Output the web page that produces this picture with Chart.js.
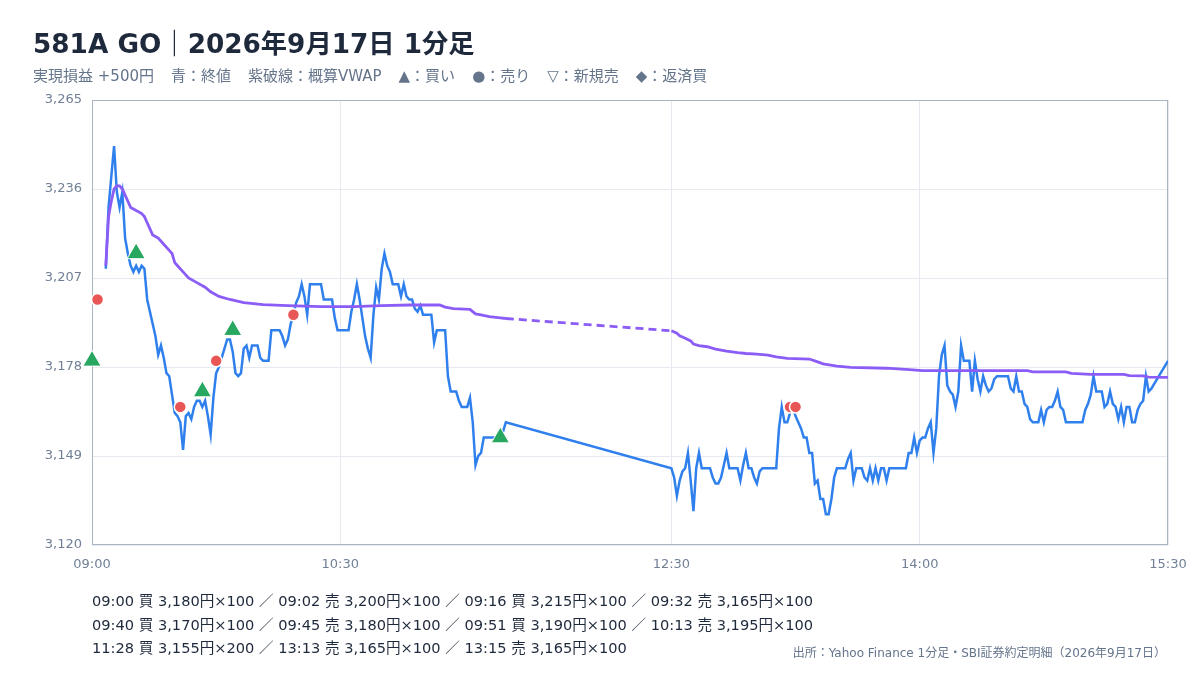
<!DOCTYPE html>
<html lang="ja">
<head>
<meta charset="utf-8">
<title>581A GO 1分足</title>
<script src="https://cdn.jsdelivr.net/npm/chart.js@4.4.1/dist/chart.umd.min.js"></script>
<style>
  html, body { margin: 0; padding: 0; background: #fff; }
  body { width: 1200px; height: 680px; position: relative; overflow: hidden;
         font-family: "DejaVu Sans", "Noto Sans CJK JP", sans-serif; }
  #chart { position: absolute; left: 0; top: 0; }
  #title { position: absolute; left: 33px; top: 29px; font-size: 26.3px; line-height: 30px;
           font-weight: bold; color: #1e293b; white-space: nowrap; }
  #subtitle { position: absolute; left: 33px; top: 67px; font-size: 15px; line-height: 18px;
              color: #64748b; white-space: nowrap; }
  #subtitle span { margin-right: 17px; }
  #trades { position: absolute; left: 92px; top: 589px; font-size: 14.6px; line-height: 23.5px;
            color: #1e293b; white-space: nowrap; }
  #source { position: absolute; right: 34px; top: 645px; font-size: 12px; line-height: 16px;
            color: #64748b; white-space: nowrap; }
</style>
</head>
<body>
<canvas id="chart" width="1200" height="680"></canvas>
<div id="title">581A GO｜2026年9月17日 1分足</div>
<div id="subtitle"><span>実現損益 +500円</span><span>青：終値</span><span>紫破線：概算VWAP</span><span>▲：買い</span><span>●：売り</span><span>▽：新規売</span><span>◆：返済買</span></div>
<div id="trades"></div>
<div id="source">出所：Yahoo Finance 1分足・SBI証券約定明細（2026年9月17日）</div>
<script>
// 軸
const xTickLabels = ["09:00", "10:30", "12:30", "14:00", "15:30"];
const yTicks = [3120, 3149, 3178, 3207, 3236, 3265];
const lunchBreak = ["11:30", "12:30"];

// 終値（09:00からの経過分）
const priceMinutes = [
  5, 6, 7, 8, 9, 10, 11, 12, 13, 14, 15, 16, 17, 18, 19, 20, 21, 22, 23, 24,
  25, 26, 27, 28, 29, 30, 31, 32, 33, 34, 35, 36, 37, 38, 39, 40, 41, 42, 43, 44,
  45, 46, 47, 48, 49, 50, 51, 52, 53, 54, 55, 56, 57, 58, 59, 60, 61, 62, 63, 64,
  65, 66, 67, 68, 69, 70, 71, 72, 73, 74, 75, 76, 77, 78, 79, 80, 81, 82, 83, 84,
  85, 86, 87, 88, 89, 90, 91, 92, 93, 94, 95, 96, 97, 98, 99, 100, 101, 102, 103, 104,
  105, 106, 107, 108, 109, 110, 111, 112, 113, 114, 115, 116, 117, 118, 119, 120, 121, 122, 123, 124,
  125, 126, 127, 128, 129, 130, 131, 132, 133, 134, 135, 136, 137, 138, 139, 140, 141, 142, 143, 144,
  145, 146, 147, 148, 149, 150,
  210, 211, 212, 213, 214, 215, 216, 217, 218, 219, 220, 221, 222, 223, 224, 225, 226, 227, 228, 229,
  230, 231, 232, 233, 234, 235, 236, 237, 238, 239, 240, 241, 242, 243, 244, 245, 246, 247, 248, 249,
  250, 251, 252, 253, 254, 255, 256, 257, 258, 259, 260, 261, 262, 263, 264, 265, 266, 267, 268, 269,
  270, 271, 272, 273, 274, 275, 276, 277, 278, 279, 280, 281, 282, 283, 284, 285, 286, 287, 288, 289,
  290, 291, 292, 293, 294, 295, 296, 297, 298, 299, 300, 301, 302, 303, 304, 305, 306, 307, 308, 309,
  310, 311, 312, 313, 314, 315, 316, 317, 318, 319, 320, 321, 322, 323, 324, 325, 326, 327, 328, 329,
  330, 331, 332, 333, 334, 335, 336, 337, 338, 339, 340, 341, 342, 343, 344, 345, 346, 347, 348, 349,
  350, 351, 352, 353, 354, 355, 356, 357, 358, 359, 360, 361, 362, 363, 364, 365, 366, 367, 368, 369,
  370, 371, 372, 373, 374, 375, 376, 377, 378, 379, 380, 381, 382, 383, 384, 390
];
const priceValues = [
  3210, 3230, 3240, 3250, 3235, 3230, 3235, 3220, 3215, 3211, 3209, 3211, 3209, 3211, 3210, 3200, 3196, 3192, 3188, 3182,
  3185, 3181, 3176, 3175, 3169, 3163, 3162, 3160, 3151, 3162, 3163, 3161, 3165, 3167, 3167, 3165, 3167, 3162, 3156, 3168,
  3176, 3178, 3181, 3184, 3187, 3187, 3183, 3176, 3175, 3176, 3184, 3185, 3181, 3185, 3185, 3185, 3181, 3180, 3180, 3180,
  3190, 3190, 3190, 3190, 3188, 3185, 3187, 3192, 3195, 3199, 3201, 3205, 3201, 3195, 3205, 3205, 3205, 3205, 3205, 3200,
  3200, 3200, 3200, 3194, 3190, 3190, 3190, 3190, 3190, 3196, 3200, 3205, 3200, 3194, 3188, 3184, 3181, 3195, 3204, 3200,
  3210, 3215, 3211, 3209, 3205, 3205, 3205, 3201, 3205, 3201, 3200, 3200, 3197, 3196, 3198, 3195, 3195, 3195, 3195, 3186,
  3190, 3190, 3190, 3190, 3175, 3170, 3170, 3170, 3167, 3165, 3165, 3165, 3168, 3160, 3146, 3149, 3150, 3155, 3155, 3155,
  3155, 3155, 3155, 3155, 3157, 3160,
  3145, 3142, 3136, 3141, 3144, 3145, 3150, 3141, 3131, 3145, 3150, 3145, 3145, 3145, 3145, 3142, 3140, 3140, 3142, 3146,
  3150, 3145, 3145, 3145, 3145, 3141, 3146, 3150, 3145, 3145, 3142, 3140, 3144, 3145, 3145, 3145, 3145, 3145, 3145, 3158,
  3165, 3160, 3160, 3163, 3165, 3162, 3160, 3158, 3155, 3155, 3150, 3150, 3140, 3141, 3135, 3135, 3130, 3130, 3135, 3142,
  3145, 3145, 3145, 3145, 3148, 3150, 3141, 3145, 3145, 3145, 3142, 3141, 3145, 3141, 3145, 3141, 3145, 3145, 3141, 3145,
  3145, 3145, 3145, 3145, 3145, 3145, 3150, 3150, 3155, 3150, 3154, 3155, 3155, 3158, 3160, 3150, 3158, 3175, 3182, 3185,
  3172, 3170, 3169, 3165, 3170, 3185, 3180, 3180, 3180, 3170, 3180, 3174, 3170, 3175, 3172, 3170, 3171, 3174, 3175, 3175,
  3175, 3175, 3175, 3171, 3170, 3175, 3170, 3170, 3166, 3165, 3161, 3160, 3160, 3160, 3164, 3160, 3164, 3165, 3165, 3167,
  3170, 3165, 3164, 3160, 3160, 3160, 3160, 3160, 3160, 3160, 3164, 3166, 3169, 3175, 3170, 3170, 3170, 3165, 3166, 3170,
  3166, 3165, 3161, 3165, 3160, 3165, 3165, 3160, 3160, 3164, 3166, 3167, 3175, 3170, 3171, 3180
];

// 概算VWAP
const vwapMinutes = [
  5, 6, 7, 8, 9, 10, 11, 12, 13, 14, 16, 18, 19, 20, 21, 22, 24, 26, 28, 29,
  30, 31, 33, 35, 38, 41, 43, 46, 50, 55, 62, 71, 83, 95, 105, 115, 126, 128, 131, 137,
  139, 141, 144, 148, 150,
  210, 212, 213, 215, 217, 218, 220, 223, 226, 230, 234, 237, 241, 245, 248, 252, 260, 262, 265, 270,
  275, 288, 295, 301, 339, 341, 353, 355, 362, 374, 376, 381, 383, 390
];
const vwapValues = [
  3211, 3227, 3232, 3236, 3237, 3237, 3236, 3234, 3232, 3230, 3229, 3228, 3227, 3225, 3223, 3221, 3220, 3218, 3216, 3215,
  3212, 3211, 3209, 3207, 3205.5, 3204, 3202.5, 3201, 3200, 3199, 3198.3, 3198, 3197.7, 3197.7, 3198, 3198.2, 3198.2, 3197.5, 3197, 3196.8,
  3195.3, 3195, 3194.4, 3194, 3193.8,
  3189.8, 3189, 3188.2, 3187.4, 3186.5, 3185.5, 3185, 3184.6, 3183.8, 3183.2, 3182.7, 3182.4, 3182.2, 3181.9, 3181.3, 3180.8, 3180.6, 3180, 3179, 3178.3,
  3177.9, 3177.6, 3177.2, 3176.8, 3176.8, 3176.4, 3176.4, 3175.9, 3175.6, 3175.6, 3175.2, 3175.1, 3174.7, 3174.6
];

// 約定
const tradeTimes = ["09:00", "09:02", "09:16", "09:32", "09:40", "09:45", "09:51", "10:13", "11:28", "13:13", "13:15"];
const tradeSides = ["買", "売", "買", "売", "買", "売", "買", "売", "買", "売", "売"];
const tradePrices = [3180, 3200, 3215, 3165, 3170, 3180, 3190, 3195, 3155, 3165, 3165];
const tradeQty = [100, 100, 100, 100, 100, 100, 100, 100, 200, 100, 100];

function toMin(t) {
  const [h, m] = t.split(":").map(Number);
  return (h - 9) * 60 + m;
}
function toTime(v) {
  const h = 9 + Math.floor(v / 60);
  const m = v % 60;
  return String(h).padStart(2, "0") + ":" + String(m).padStart(2, "0");
}
const fmt = v => v.toLocaleString("en-US");

const price = priceMinutes.map((m, i) => ({ x: m, y: priceValues[i] }));
const vwap = vwapMinutes.map((m, i) => ({ x: m, y: vwapValues[i] }));
const buys = [], sells = [];
tradeTimes.forEach((t, i) => {
  const p = { x: toMin(t), y: tradePrices[i] };
  (tradeSides[i] === "買" ? buys : sells).push(p);
});

// 約定明細テキスト（4件ずつ）
const items = tradeTimes.map((t, i) => `${t} ${tradeSides[i]} ${fmt(tradePrices[i])}円×${tradeQty[i]}`);
const lines = [];
for (let i = 0; i < items.length; i += 4) lines.push(items.slice(i, i + 4).join(" ／ "));
document.getElementById("trades").innerHTML = lines.map(l => `<div>${l}</div>`).join("");

const xTickValues = xTickLabels.map(toMin);
const [lunchFrom, lunchTo] = lunchBreak.map(toMin);

const plotBorder = {
  id: "plotBorder",
  beforeDatasetsDraw(chart) {
    const { ctx, chartArea: a } = chart;
    ctx.save();
    ctx.strokeStyle = "#a9b4c3";
    ctx.lineWidth = 1;
    ctx.strokeRect(a.left + 0.5, a.top + 0.5, a.right - a.left - 1, a.bottom - a.top - 1);
    ctx.restore();
  }
};

const tickFont = { family: "'DejaVu Sans', sans-serif", size: 13 };

new Chart(document.getElementById("chart"), {
  type: "line",
  data: {
    datasets: [
      {
        label: "買い", type: "scatter", data: buys, pointStyle: "triangle", pointRadius: 10.5,
        backgroundColor: "#27a75f", borderColor: "#ffffff", borderWidth: 1, clip: false, order: 0
      },
      {
        label: "売り", type: "scatter", data: sells, pointStyle: "circle", pointRadius: 6,
        backgroundColor: "#e85656", borderColor: "#ffffff", borderWidth: 1.5, clip: false, order: 0
      },
      {
        label: "概算VWAP", data: vwap, borderColor: "#8b5cf6", borderWidth: 2.8, pointRadius: 0,
        tension: 0, order: 1,
        segment: {
          borderDash: c => (c.p0.parsed.x <= lunchFrom && c.p1.parsed.x >= lunchTo ? [8, 5] : undefined)
        }
      },
      {
        label: "終値", data: price, borderColor: "#2f80ed", borderWidth: 2.5, pointRadius: 0,
        tension: 0, order: 2
      }
    ]
  },
  options: {
    responsive: false,
    animation: false,
    layout: { padding: { left: 30, right: 32, top: 100, bottom: 105 } },
    plugins: { legend: { display: false }, tooltip: { enabled: false }, title: { display: false } },
    scales: {
      x: {
        type: "linear", min: 0, max: 390,
        afterBuildTicks: s => { s.ticks = xTickValues.map(v => ({ value: v })); },
        afterFit: s => { s.height = 30; },
        grid: { color: "#e6eaf0", drawTicks: false },
        border: { display: false },
        ticks: { autoSkip: false, maxRotation: 0, padding: 12, color: "#718096", font: tickFont,
                 callback: v => toTime(v) }
      },
      y: {
        min: yTicks[0], max: yTicks[yTicks.length - 1],
        afterBuildTicks: s => { s.ticks = yTicks.map(v => ({ value: v })); },
        afterFit: s => { s.width = 62; },
        grid: { color: "#e6eaf0", drawTicks: false },
        border: { display: false },
        ticks: { padding: 10, color: "#718096", font: tickFont, callback: v => fmt(v) }
      }
    }
  },
  plugins: [plotBorder]
});
</script>
</body>
</html>
